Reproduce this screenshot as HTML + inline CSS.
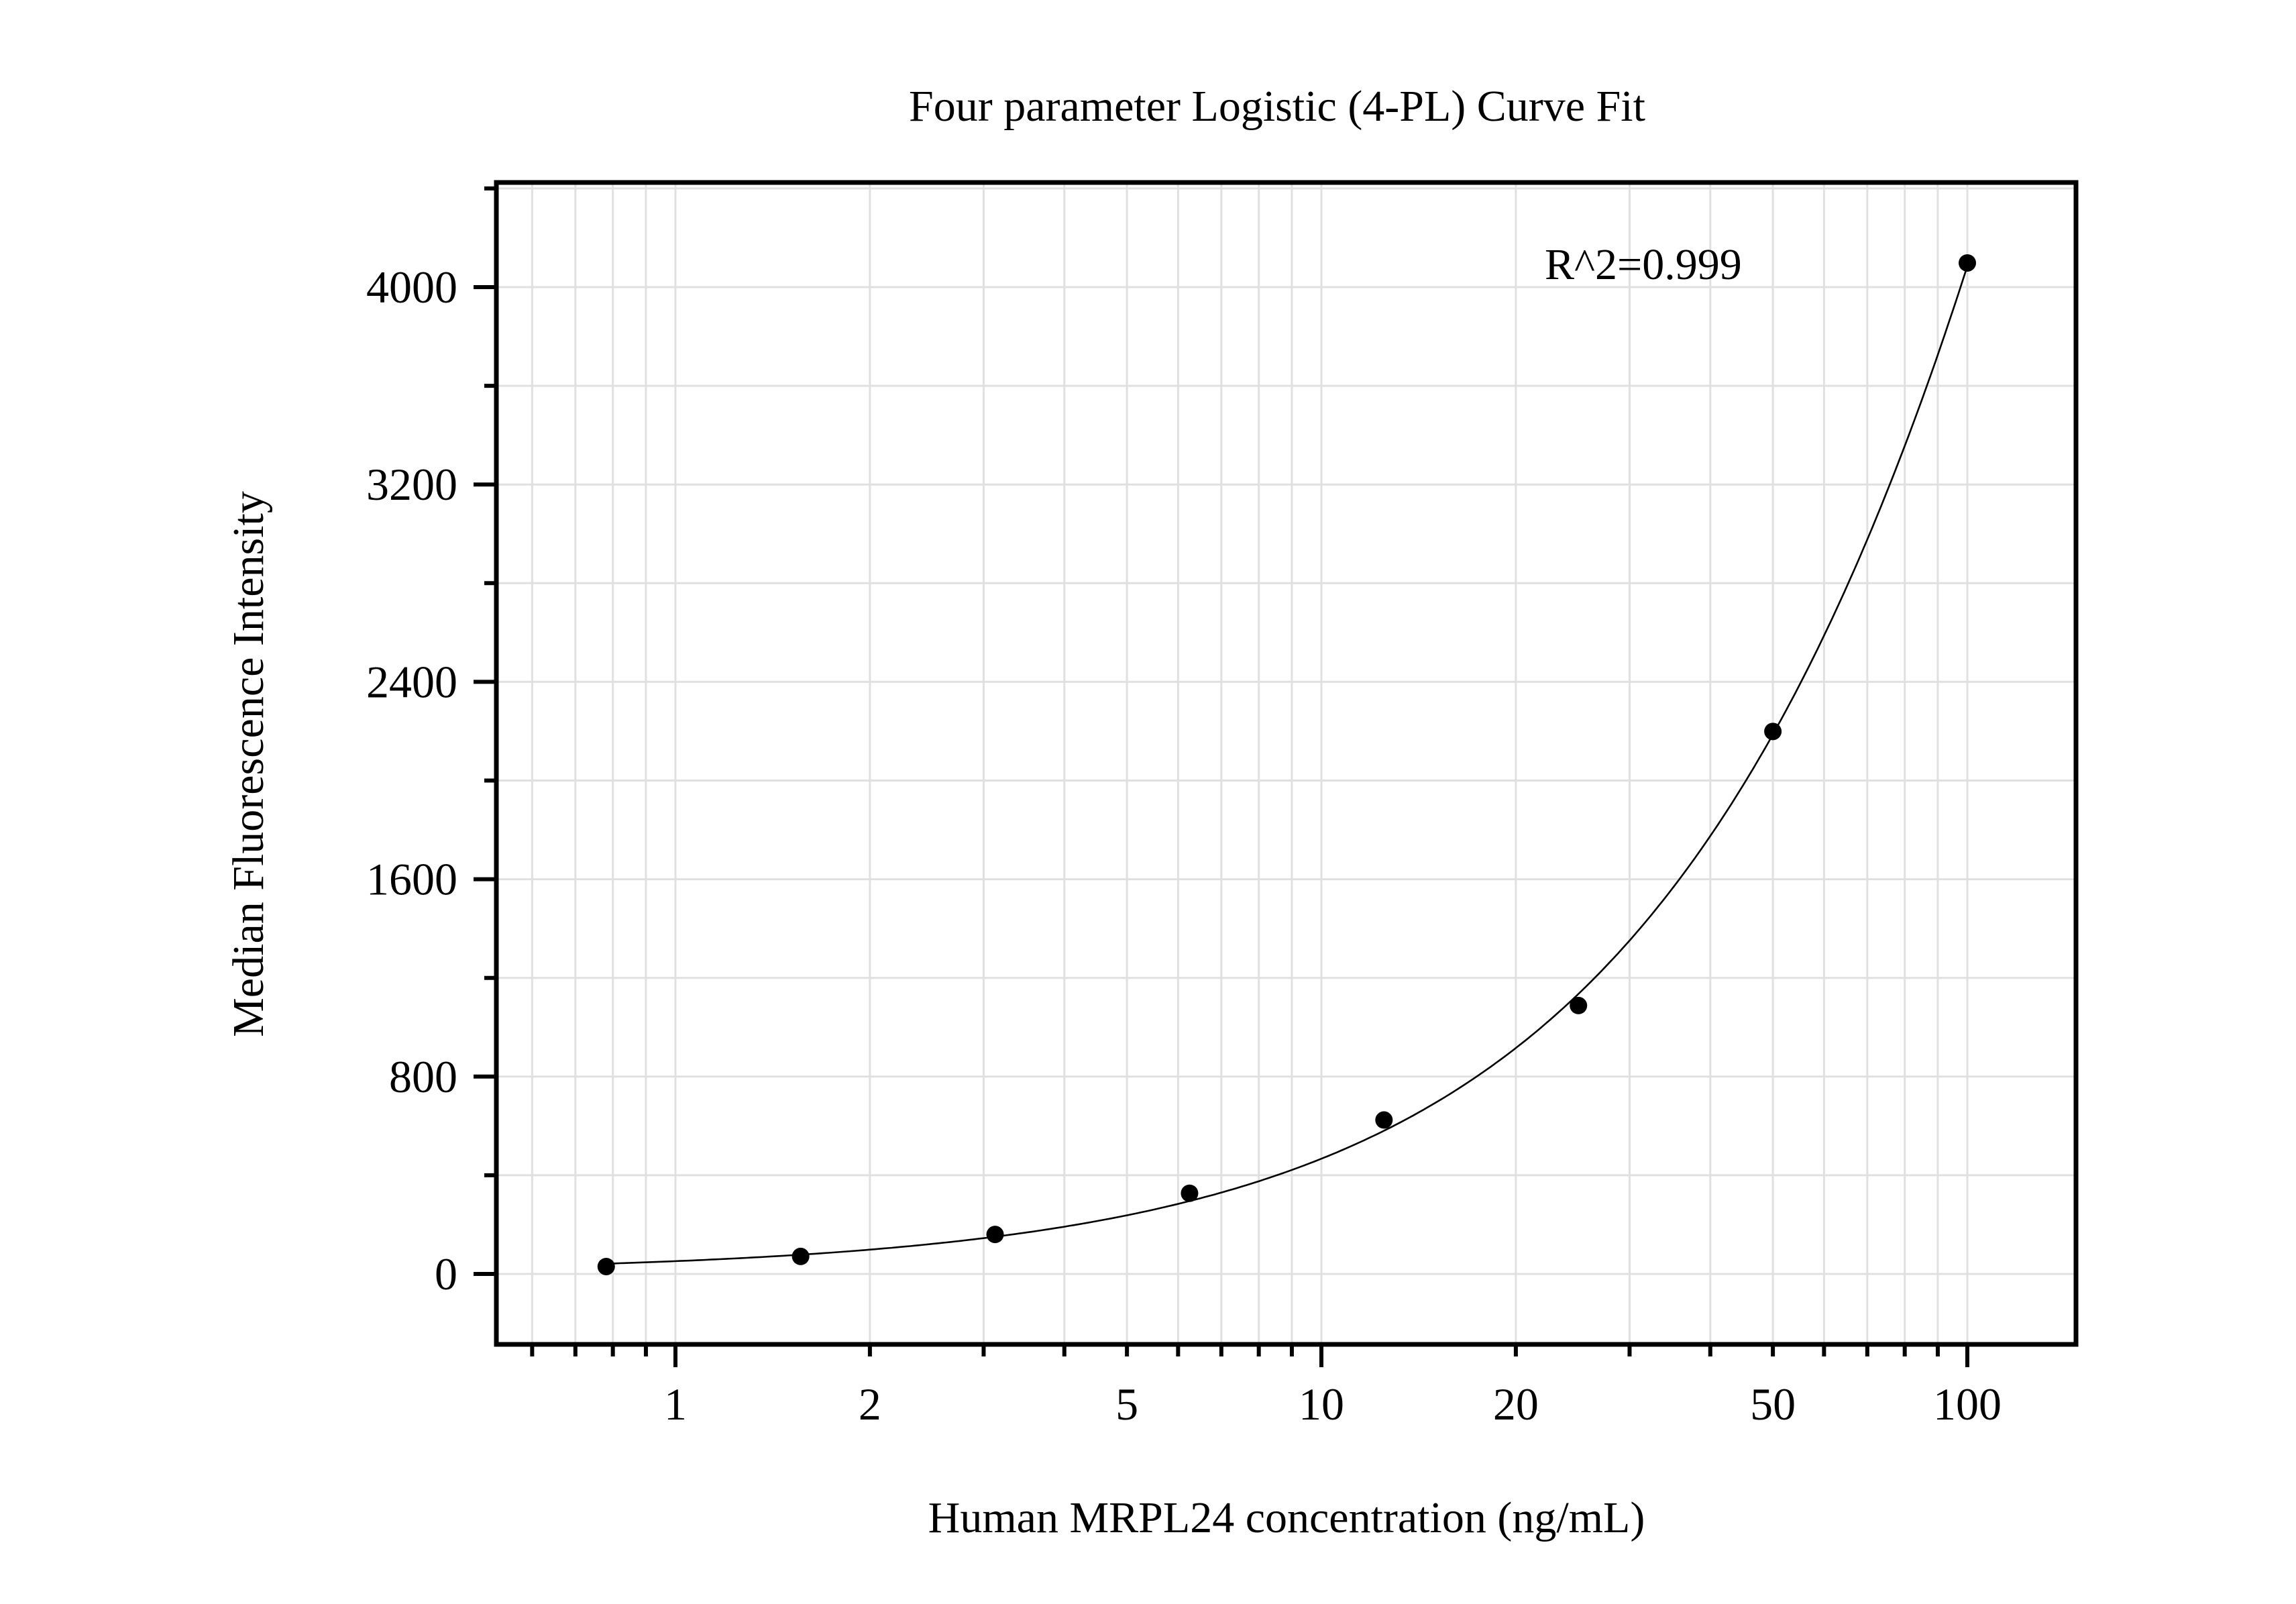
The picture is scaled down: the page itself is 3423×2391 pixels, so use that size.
<!DOCTYPE html>
<html><head><meta charset="utf-8"><style>
html,body{margin:0;padding:0;background:#fff;}
svg{display:block;font-family:"Liberation Serif","Times New Roman",serif;}
</style></head><body>
<svg id="chart" width="3423" height="2391" viewBox="0 0 3423 2391" xmlns="http://www.w3.org/2000/svg">
<rect x="0" y="0" width="3423" height="2391" fill="#fff"/>
<g id="grid"></g>
<g id="curve"></g>
<g id="points"></g>
<g id="axes"></g>
<text x="1904" y="180" font-size="66" text-anchor="middle">Four parameter Logistic (4-PL) Curve Fit</text>
<text x="2303" y="416" font-size="66">R^2=0.999</text>
<text x="1918" y="2284" font-size="66" text-anchor="middle">Human MRPL24 concentration (ng/mL)</text>
<text transform="translate(392,1139) rotate(-90)" font-size="66" text-anchor="middle">Median Fluorescence Intensity</text>
</svg>
<script>
const concentrations = [0.78125, 1.5625, 3.125, 6.25, 12.5, 25, 50, 100];
const intensities = [30, 71, 160, 327, 624, 1088, 2199, 4098];
const fitParams = [5, 31381, 669, 1]; // bottom, top, EC50, slope
const yTicks = [0, 800, 1600, 2400, 3200, 4000];
const yMinorTicks = [400, 1200, 2000, 2800, 3600, 4400];
const xTickLabels = [1, 2, 5, 10, 20, 50, 100];
const xMinorTicks = [0.6,0.7,0.8,0.9,2,3,4,5,6,7,8,9,20,30,40,50,60,70,80,90];
const xMajorTicks = [1, 10, 100];

const L=740, R=3095, T=272, B=2004;
const X1=1007, DEC=963, Y0=1899, YS=0.36775;
const xs = v => X1 + Math.log10(v)*DEC;
const ys = v => Y0 - v*YS;
const NS="http://www.w3.org/2000/svg";
function mk(tag, attrs, parent){const e=document.createElementNS(NS,tag);for(const k in attrs)e.setAttribute(k,attrs[k]);parent.appendChild(e);return e;}
const grid=document.getElementById('grid'), axes=document.getElementById('axes');

[...xMinorTicks, ...xMajorTicks].forEach(v=>{
  const g=mk('line',{x1:xs(v),x2:xs(v),y1:T,y2:B,stroke:'#e0e0e0','stroke-width':3},grid);
  
  
});
[...yTicks, ...yMinorTicks].forEach(v=>{
  const g=mk('line',{x1:L,x2:R,y1:ys(v),y2:ys(v),stroke:'#e0e0e0','stroke-width':3},grid);
  
  
});

const [fa,fd,fc,fb]=fitParams;
const fit = x => fd + (fa-fd)/(1+Math.pow(x/fc,fb));
let d='';
const lx0=Math.log10(concentrations[0]), lx1=Math.log10(concentrations[concentrations.length-1]);
for(let i=0;i<=300;i++){const lx=lx0+(lx1-lx0)*i/300;const x=Math.pow(10,lx);d+=(i?'L':'M')+xs(x).toFixed(1)+','+ys(fit(x)).toFixed(1);}
const cp=mk('path',{d:d,fill:'none',stroke:'#000','stroke-width':2.6},document.getElementById('curve'));



concentrations.forEach((c,i)=>{
  const p=mk('circle',{cx:xs(c),cy:ys(intensities[i]),r:13,fill:'#000'},document.getElementById('points'));
  
  
});

const fr=mk('rect',{x:L,y:T,width:R-L,height:B-T,fill:'none',stroke:'#000','stroke-width':7},axes);



yTicks.forEach(v=>{
  const t=mk('line',{x1:L-34,x2:L,y1:ys(v),y2:ys(v),stroke:'#000','stroke-width':6},axes);
  
  
  const lb=mk('text',{x:L-58,y:ys(v)+23,'font-size':68,'text-anchor':'end'},axes);
  lb.textContent=v;
  
  
});
yMinorTicks.forEach(v=>{
  const t=mk('line',{x1:L-18,x2:L,y1:ys(v),y2:ys(v),stroke:'#000','stroke-width':6},axes);
  
  
});
xMajorTicks.forEach(v=>{
  const t=mk('line',{x1:xs(v),x2:xs(v),y1:B,y2:B+34,stroke:'#000','stroke-width':6},axes);
  
  
});
xMinorTicks.forEach(v=>{
  const t=mk('line',{x1:xs(v),x2:xs(v),y1:B,y2:B+18,stroke:'#000','stroke-width':6},axes);
  
  
});
xTickLabels.forEach(v=>{
  const lb=mk('text',{x:xs(v),y:2116,'font-size':68,'text-anchor':'middle'},axes);
  lb.textContent=v;
  
  
});
</script>
</body></html>
